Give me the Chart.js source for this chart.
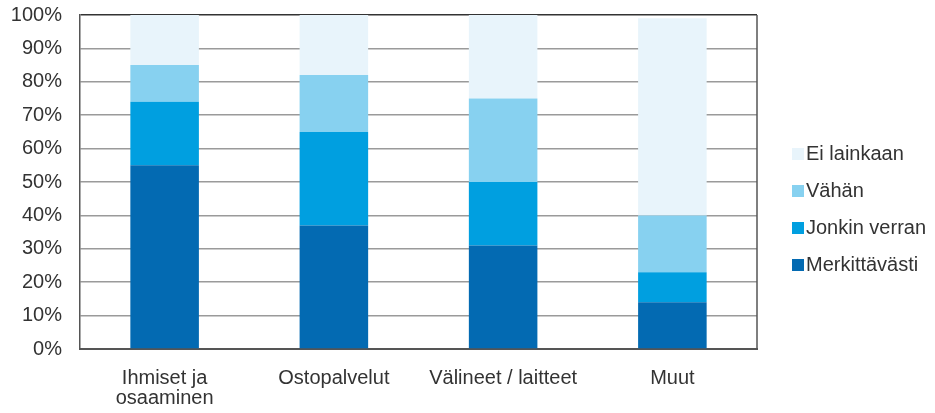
<!DOCTYPE html>
<html><head><meta charset="utf-8">
<script src="https://cdn.jsdelivr.net/npm/chart.js@4/dist/chart.umd.min.js"></script>
<style>
html,body{margin:0;padding:0;background:#fff;}
#wrap{position:relative;width:935px;height:413px;}
#legend{position:absolute;left:792px;top:135px;font-family:"Liberation Sans",Arial,sans-serif;font-size:20px;color:#333;}
#legend div{height:37px;line-height:37px;display:flex;align-items:center;white-space:nowrap;}
#legend span.b{display:inline-block;width:12px;height:12px;margin-right:2px;}
</style></head>
<body>
<div id="wrap"><canvas id="c" width="935" height="413"></canvas><div id="legend"></div></div>
<script>
const categories = [["Ihmiset ja","osaaminen"],"Ostopalvelut","Välineet / laitteet","Muut"];
const seriesNames = ["Merkittävästi","Jonkin verran","Vähän","Ei lainkaan"];
const merkittavasti = [55,37,31,14];
const jonkinVerran = [19,28,19,9];
const vahan = [11,17,25,17];
const eiLainkaan = [15,18,25,59];
const colors = ["#036AB2","#009FE0","#87D1F0","#E8F4FB"];
const yTicks = [0,10,20,30,40,50,60,70,80,90,100];

const seriesData = [merkittavasti,jonkinVerran,vahan,eiLainkaan];
const datasets = seriesNames.map((n,i)=>({label:n,data:seriesData[i],backgroundColor:colors[i],borderWidth:0,barPercentage:0.81,categoryPercentage:0.5}));

const frame = {id:'frame',afterDraw(ch){const a=ch.chartArea,c=ch.ctx;c.save();c.strokeStyle='#555';c.lineWidth=1.5;c.beginPath();c.moveTo(a.right,a.top);c.lineTo(a.right,a.bottom);c.stroke();c.restore();}};
const FONT='"Liberation Sans",Arial,sans-serif';
const chart = new Chart(document.getElementById('c'),{
 type:'bar',
 data:{labels:categories,datasets},
 plugins:[frame],
 options:{
  responsive:false,animation:false,
  layout:{padding:{top:15,right:178,left:0,bottom:0}},
  plugins:{legend:{display:false},tooltip:{enabled:false}},
  scales:{
   x:{stacked:true,grid:{display:false,drawTicks:false},border:{color:'#555',width:2},
      ticks:{color:'#333',padding:19,font:{family:FONT,size:20,lineHeight:1.0},maxRotation:0},
      afterFit(s){s.height=64;s.paddingLeft=0;s.paddingRight=0;}},
   y:{stacked:true,min:0,max:100,afterBuildTicks(s){s.ticks=yTicks.map(v=>({value:v}));},
      grid:{color:(ctx)=>ctx.tick&&ctx.tick.value===100?'#333':'#9a9a9a',lineWidth:1.5,drawTicks:false},
      border:{color:'#555',width:1.5},
      ticks:{color:'#333',padding:18,font:{family:FONT,size:20},callback:v=>v+'%'},
      afterFit(s){s.width=80;s.paddingTop=0;s.paddingBottom=0;}}
  }
 }
});
const lg=document.getElementById('legend');
for(let i=seriesNames.length-1;i>=0;i--){const d=document.createElement('div');d.innerHTML='<span class="b" style="background:'+colors[i]+'"></span>'+seriesNames[i];lg.appendChild(d);}
</script>
</body></html>
